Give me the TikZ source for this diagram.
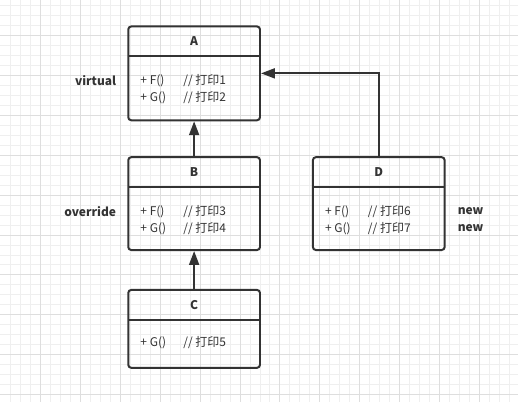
\documentclass[tikz,border=0pt]{standalone}
\usepackage{fontspec}
\setmainfont{Noto Sans CJK SC}
\usetikzlibrary{positioning,arrows.meta}

\definecolor{ink}{HTML}{333333}
\definecolor{gridminor}{HTML}{EFEFEF}
\definecolor{gridmajor}{HTML}{DEDEDE}

\tikzset{
  classbox/.style={draw=ink,line width=2pt,rounded corners=3pt,minimum width=132pt,inner sep=0pt,outer sep=0pt},
  classname/.style={font=\fontsize{12}{14}\selectfont\bfseries,text=ink},
  members/.style={font=\fontsize{12}{17}\selectfont,text=ink,align=left,inner sep=0pt,anchor=west},
  tag/.style={font=\fontsize{12}{17}\selectfont\bfseries,text=ink,align=left,inner sep=0pt},
  inherit/.style={draw=ink,line width=2pt,shorten >=1pt,-{Triangle[length=14pt,width=10pt]}},
}
\newcommand{\member}[2]{\makebox[43pt][l]{+ #1}// 打印#2}

\begin{document}
\begin{tikzpicture}[x=1pt,y=1pt,node distance=130pt]
  % background grid
  \fill[white] (0,0) rectangle (518,-402);
  \foreach \x in {10,20,...,510} \draw[gridminor,line width=1pt] (\x,0) -- (\x,-402);
  \foreach \y in {5,15,...,395} \draw[gridminor,line width=1pt] (0,-\y) -- (518,-\y);
  \foreach \x in {40,80,...,480} \draw[gridmajor,line width=1pt] (\x,0) -- (\x,-402);
  \foreach \y in {35,75,...,395} \draw[gridmajor,line width=1pt] (0,-\y) -- (518,-\y);
  \useasboundingbox (0,0) rectangle (518,-402);

  % classes
  \node[classbox,minimum height=94pt] (A) at (194,-73) {};
  \node[classbox,minimum height=93pt,on grid,below=130.5pt of A] (B) {};
  \node[classbox,minimum height=78pt,on grid,below=125.5pt of B] (C) {};
  \node[classbox,minimum height=93pt,on grid,right=185pt of B] (D) {};

  \foreach \c in {A,B,C,D}
    \draw[ink,line width=2pt] ([yshift=-30pt]\c.north west) -- ([yshift=-30pt]\c.north east);

  \node[classname] (A name) at ([yshift=-15pt]A.north) {A};
  \node[classname] (B name) at ([yshift=-15pt]B.north) {B};
  \node[classname] (C name) at ([yshift=-15pt]C.north) {C};
  \node[classname] (D name) at ([yshift=-15pt]D.north) {D};

  \node[members] (A body) at ([shift={(12pt,31pt)}]A.south west) {\member{F()}{1}\\\member{G()}{2}};
  \node[members] (B body) at ([shift={(12pt,30pt)}]B.south west) {\member{F()}{3}\\\member{G()}{4}};
  \node[members] (C body) at ([shift={(12pt,25pt)}]C.south west) {\member{G()}{5}};
  \node[members] (D body) at ([shift={(12pt,30pt)}]D.south west) {\member{F()}{6}\\\member{G()}{7}};

  % side notes
  \coordinate (A side) at (A.west |- A body.west);
  \coordinate (B side) at (B.west |- B body.west);
  \coordinate (D side) at (D.east |- D body.west);
  \node[tag,left=12pt of A side,yshift=8.5pt] (A tag) {virtual};
  \node[tag,left=12pt of B side,yshift=8.5pt] (B tag) {override};
  \node[tag,right=13pt of D side] (D tag) {new\\new};

  % inheritance
  \draw[inherit] (B) -- (A);
  \draw[inherit] (C) -- (B);
  \draw[inherit] (D.north) |- (A.east);
\end{tikzpicture}
\end{document}
